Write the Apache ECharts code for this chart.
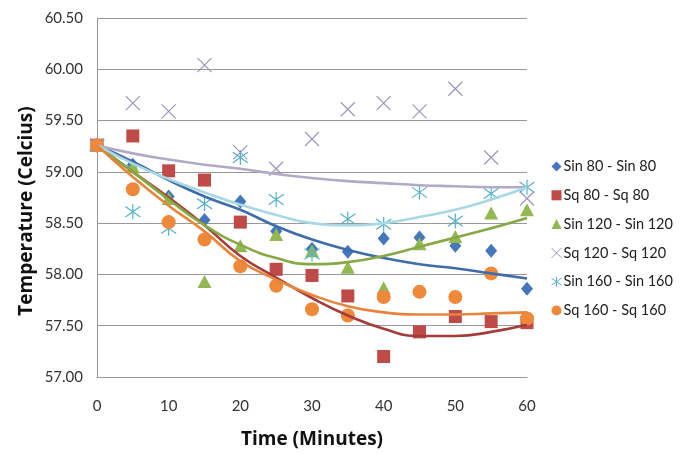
<!DOCTYPE html>
<html><head><meta charset="utf-8">
<script src="https://cdn.jsdelivr.net/npm/echarts@6/dist/echarts.min.js"></script>
<style>html,body{margin:0;padding:0;background:#fff}#c{width:689px;height:454px}</style>
</head><body><div id="c"></div>
<script>
const times = [0,5,10,15,20,25,30,35,40,45,50,55,60];
const seriesNames = ['Sin 80 - Sin 80','Sq 80 - Sq 80','Sin 120 - Sin 120','Sq 120 - Sq 120','Sin 160 - Sin 160','Sq 160 - Sq 160'];
const sin80  = [59.26,59.07,58.76,58.53,58.71,58.42,58.25,58.22,58.35,58.36,58.28,58.23,57.86];
const sq80   = [59.26,59.35,59.01,58.92,58.51,58.05,57.99,57.79,57.20,57.44,57.59,57.54,57.53];
const sin120 = [59.26,59.05,58.74,57.93,58.28,58.39,58.23,58.07,57.87,58.30,58.37,58.60,58.63];
const sq120  = [59.26,59.67,59.59,60.04,59.19,59.03,59.32,59.61,59.67,59.59,59.81,59.14,58.74];
const sin160 = [59.26,58.61,58.45,58.69,59.14,58.73,58.20,58.54,58.49,58.80,58.52,58.79,58.85];
const sq160  = [59.26,58.83,58.51,58.34,58.08,57.89,57.66,57.60,57.78,57.83,57.78,58.01,57.57];
// trendlines
const trendSin80  = [59.26,59.10,58.92,58.76,58.63,58.47,58.34,58.24,58.16,58.10,58.06,58.01,57.96];
const trendSq80   = [59.26,59.00,58.75,58.48,58.18,57.97,57.77,57.60,57.47,57.40,57.40,57.44,57.51];
const trendSin120 = [59.26,59.00,58.73,58.48,58.29,58.16,58.10,58.12,58.18,58.27,58.36,58.45,58.55];
const trendSq120  = [59.26,59.18,59.12,59.07,59.03,58.98,58.94,58.91,58.89,58.87,58.86,58.85,58.85];
const trendSin160 = [59.26,59.08,58.93,58.80,58.68,58.58,58.50,58.48,58.50,58.56,58.63,58.73,58.85];
const trendSq160  = [59.26,58.95,58.67,58.42,58.13,57.95,57.80,57.69,57.63,57.61,57.61,57.62,57.63];

const X_PATH = 'path://M0,0L10,10M10,0L0,10';
const AST_PATH = 'path://M5,0L5,10M0,1.5L10,8.5M10,1.5L0,8.5';
const styles = [
  {data: sin80, trend: trendSin80, symbol:'diamond', size:[12,14], color:'#4577bb', line:'#3d6dab'},
  {data: sq80, trend: trendSq80, symbol:'rect', size:13, color:'#be4b48', line:'#a63b39'},
  {data: sin120, trend: trendSin120, symbol:'triangle', size:[14,13], color:'#93b851', line:'#86a944'},
  {data: sq120, trend: trendSq120, symbol:X_PATH, size:14, color:'#9d95bd', line:'#b2a9c9', stroke:true},
  {data: sin160, trend: trendSin160, symbol:AST_PATH, size:15, color:'#55b2c9', line:'#a8d7e6', stroke:true},
  {data: sq160, trend: trendSq160, symbol:'circle', size:14, color:'#f0883a', line:'#e8853b'}
];

const series = [];
styles.forEach((s, i) => {
  series.push({
    name: seriesNames[i], type:'scatter', symbol:s.symbol, symbolSize:s.size, z: 2 + i*0.01,
    itemStyle: s.stroke ? {color:'rgba(0,0,0,0)', borderColor:s.color, borderWidth:1.2, opacity:1} : {color:s.color, opacity:1},
    data: times.map((t, k) => [t, s.data[k]])
  });
});
styles.forEach((s, i) => {
  series.push({
    name: 'trend' + i, type:'line', smooth:true, showSymbol:false, z: 5,
    lineStyle:{color:s.line, width:2.6}, silent:true,
    data: times.map((t, k) => [t, s.trend[k]])
  });
});

const chart = echarts.init(document.getElementById('c'));
chart.setOption({
  animation:false,
  textStyle:{fontFamily:'Lato'},
  grid:{left:97, top:18, width:430, height:361},
  legend:{
    orient:'vertical', left:546, top:154, itemGap:13.8, itemWidth:10, itemHeight:10,
    data: seriesNames.map((n, i) => ({
      name:n,
      icon: styles[i].symbol,
      itemStyle: styles[i].stroke ? {color:'rgba(0,0,0,0)', borderColor:styles[i].color, borderWidth:1} : {color:styles[i].color}
    })),
    textStyle:{fontFamily:'Lato', fontSize:14.5, lineHeight:14, color:'#222', padding:[0,0,0,-3]}
  },
  xAxis:{
    type:'value', min:0, max:60, interval:10,
    axisLine:{lineStyle:{color:'#999'}}, axisTick:{show:false}, splitLine:{show:false},
    axisLabel:{color:'#333', fontSize:15, margin:22},
    name:'Time (Minutes)', nameLocation:'middle', nameGap:53,
    nameTextStyle:{fontFamily:'Open Sans', fontWeight:'bold', fontSize:19, color:'#111'}
  },
  yAxis:{
    type:'value', min:57, max:60.5, interval:0.5,
    axisLine:{show:true, lineStyle:{color:'#999'}}, axisTick:{show:false},
    splitLine:{lineStyle:{color:'#999'}},
    axisLabel:{color:'#333', fontSize:15, margin:14, formatter: v => v.toFixed(2)}
  },
  graphic:[{
    type:'text', rotation:Math.PI/2, position:[27,211],
    style:{text:'Temperature (Celcius)', fontFamily:'Open Sans', fontWeight:'bold', fontSize:19, fill:'#111', textAlign:'center', textVerticalAlign:'middle'}
  }],
  series: series
});
</script></body></html>
